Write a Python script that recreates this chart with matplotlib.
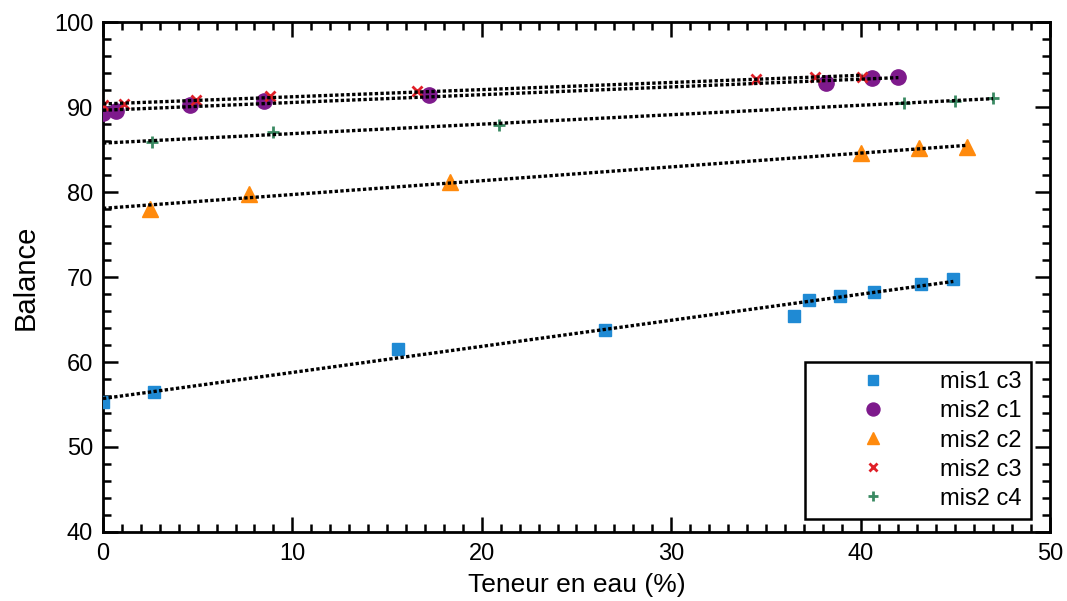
import numpy as np
import matplotlib
matplotlib.use('Agg')
from matplotlib import pyplot as plt
from matplotlib.ticker import MultipleLocator

plt.rcParams['font.family'] = ['Liberation Sans', 'DejaVu Sans']

# mis1 c3
x_m1c3 = [0.0, 2.7, 15.6, 26.5, 36.5, 37.3, 38.9, 40.7, 43.2, 44.9]
y_m1c3 = [55.3, 56.5, 61.5, 63.8, 65.4, 67.3, 67.8, 68.3, 69.2, 69.8]
# mis2 c1
x_m2c1 = [0.0, 0.7, 4.6, 8.5, 17.2, 38.2, 40.6, 42.0]
y_m2c1 = [89.3, 89.6, 90.2, 90.7, 91.4, 92.9, 93.4, 93.5]
# mis2 c2
x_m2c2 = [2.5, 7.7, 18.3, 40.0, 43.1, 45.6]
y_m2c2 = [78.0, 79.8, 81.2, 84.6, 85.2, 85.3]
# mis2 c3
x_m2c3 = [0.0, 1.1, 4.9, 8.8, 16.6, 34.5, 37.6, 40.1]
y_m2c3 = [90.2, 90.35, 90.9, 91.3, 91.9, 93.3, 93.6, 93.6]
# mis2 c4
x_m2c4 = [2.6, 9.0, 20.9, 42.3, 45.0, 47.0]
y_m2c4 = [85.9, 87.1, 87.9, 90.5, 90.7, 91.1]

series = [
    ('mis1 c3', x_m1c3, y_m1c3, 's', '#1f8ad4', 9),
    ('mis2 c1', x_m2c1, y_m2c1, 'o', '#7e1a8c', 11),
    ('mis2 c2', x_m2c2, y_m2c2, '^', '#ff8a0d', 11),
    ('mis2 c3', x_m2c3, y_m2c3, 'x', '#e02028', 7),
    ('mis2 c4', x_m2c4, y_m2c4, '+', '#3a8a62', 9),
]

fig = plt.figure(figsize=(10.67, 6.01), dpi=100)
ax = fig.add_axes([0.0965, 0.115, 0.8875, 0.848])

for name, xs, ys, mk, col, ms in series:
    xs = np.array(xs)
    ys = np.array(ys)
    if mk in ('x', '+'):
        ax.plot(xs, ys, linestyle='none', marker=mk, color=col, ms=ms, mew=2, label=name, zorder=3)
    else:
        ax.plot(xs, ys, linestyle='none', marker=mk, color=col, ms=ms, mec=col, label=name, zorder=3)
    # droite de tendance
    a, b = np.polyfit(xs, ys, 1)
    xf = np.array([0.0, xs.max()])
    ax.plot(xf, a * xf + b, color='black', lw=2.4, linestyle=(0, (1.0, 0.7)), zorder=4)

ax.set_xlim(0, 50)
ax.set_ylim(40, 100)
ax.xaxis.set_major_locator(MultipleLocator(10))
ax.xaxis.set_minor_locator(MultipleLocator(1))
ax.yaxis.set_major_locator(MultipleLocator(10))
ax.yaxis.set_minor_locator(MultipleLocator(2))
ax.tick_params(which='both', direction='in', top=True, right=True, width=1.8)
ax.tick_params(which='major', length=11, labelsize=17)
ax.tick_params(axis='y', which='major', pad=7)
ax.tick_params(axis='x', which='major', pad=8)
ax.tick_params(which='minor', length=6)
for s in ax.spines.values():
    s.set_linewidth(2)

ax.set_xlabel('Teneur en eau (%)', fontsize=19, labelpad=6)
ax.set_ylabel('Balance', fontsize=21, labelpad=10)

leg = ax.legend(loc='lower right', bbox_to_anchor=(0.98, 0.025), borderaxespad=0,
                fontsize=17, frameon=True, fancybox=False, edgecolor='black',
                handletextpad=0.4, handlelength=4.9, labelspacing=0.3,
                borderpad=0.4, markerscale=0.85)
leg.get_frame().set_linewidth(1.8)
leg.get_frame().set_alpha(1)

fig.savefig('out.png', dpi=100)
